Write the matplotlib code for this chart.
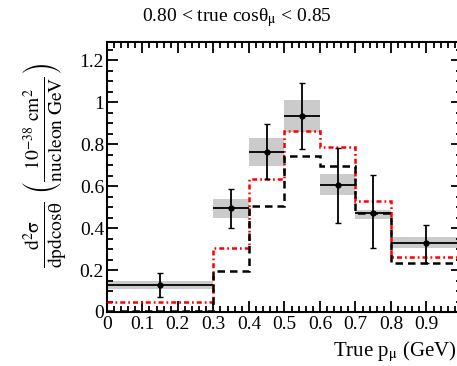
import numpy as np
import matplotlib
matplotlib.use("Agg")
import matplotlib.pyplot as plt
from matplotlib.ticker import MultipleLocator

plt.rcParams['font.family'] = ['Liberation Serif', 'DejaVu Serif']
plt.rcParams['mathtext.fontset'] = 'stix'

# Data
edges = [0.0, 0.3, 0.4, 0.5, 0.6, 0.7, 0.8, 1.0]
data_y = [0.129, 0.494, 0.763, 0.933, 0.605, 0.473, 0.327]
err_up = [0.057, 0.092, 0.131, 0.156, 0.178, 0.178, 0.086]
err_dn = [0.056, 0.094, 0.131, 0.158, 0.180, 0.170, 0.095]
syst_lo = [0.110, 0.450, 0.695, 0.859, 0.557, 0.441, 0.303]
syst_hi = [0.150, 0.538, 0.827, 1.010, 0.656, 0.486, 0.359]
model_red = [0.049, 0.303, 0.633, 0.863, 0.787, 0.528, 0.263]
model_black = [0.005, 0.197, 0.505, 0.745, 0.695, 0.470, 0.235]
xticks = [0, 0.1, 0.2, 0.3, 0.4, 0.5, 0.6, 0.7, 0.8, 0.9]
xticklabels = ['0', '0.1', '0.2', '0.3', '0.4', '0.5', '0.6', '0.7', '0.8', '0.9']
yticks = [0, 0.2, 0.4, 0.6, 0.8, 1.0, 1.2]
yticklabels = ['0', '0.2', '0.4', '0.6', '0.8', '1', '1.2']

W, H = 457, 366
fig = plt.figure(figsize=(W / 100, H / 100), dpi=100)
x0, x1 = 106.8, 462.0
y0, y1 = 312.0, 42.0
ax = fig.add_axes([x0 / W, 1 - y0 / H, (x1 - x0) / W, (y0 - y1) / H])
ax.set_xlim(0, 1.0)
ax.set_ylim(0, 1.286)

e = np.array(edges)
lefts = e[:-1]
widths = np.diff(e)
centers = lefts + widths / 2

# systematic boxes
for l, w, lo, hi in zip(lefts, widths, syst_lo, syst_hi):
    ax.add_patch(plt.Rectangle((l, lo), w, hi - lo, facecolor='#cbcbcb',
                               edgecolor='none', zorder=1))

# model histograms
ax.stairs(model_red, edges, color='#ff0000', lw=1.8,
          linestyle=(0, (2.0, 1.2, 0.7, 1.2)), zorder=3, baseline=None)
ax.stairs(model_black, edges, color='black', lw=1.8,
          linestyle=(0, (3, 2)), zorder=3, baseline=None)

# data
ax.hlines(data_y, lefts, lefts + widths, color='black', lw=1.3, zorder=4)
ax.errorbar(centers, data_y, yerr=[err_dn, err_up], fmt='o', color='black',
            ms=3.5, elinewidth=1.3, capsize=2, capthick=1.0, zorder=5)

# ticks
ax.set_xticks(xticks)
ax.set_xticklabels(xticklabels)
ax.set_yticks(yticks)
ax.set_yticklabels(yticklabels)
ax.xaxis.set_minor_locator(MultipleLocator(0.02))
ax.yaxis.set_minor_locator(MultipleLocator(0.05))
ax.tick_params(which='both', direction='in', top=True, right=True,
               labelsize=14, width=1.3)
ax.tick_params(which='major', length=8)
ax.tick_params(which='minor', length=4)
ax.tick_params(axis='x', pad=3)
ax.tick_params(axis='y', pad=2)
for s in ax.spines.values():
    s.set_linewidth(1.5)

# texts
fig.text(237 / W, 1 - 18 / H, r'0.80 < true cosθ$_{\mathrm{\mu}}$ < 0.85',
         ha='center', va='center', fontsize=14)
fig.text(457 / W, 1 - 352 / H, r'True p$_{\mathrm{\mu}}$ (GeV)',
         ha='right', va='center', fontsize=15)
fig.text(45 / W, 1 - 165 / H,
         r'$\frac{\mathrm{d}^{2}\mathrm{σ}}{\mathrm{dpdcosθ}}\ '
         r'\left(\frac{10^{-38}\ \mathrm{cm}^{2}}{\mathrm{nucleon\ GeV}}\right)$',
         rotation=90, ha='center', va='center', fontsize=20)

fig.savefig('out.png', dpi=100)
